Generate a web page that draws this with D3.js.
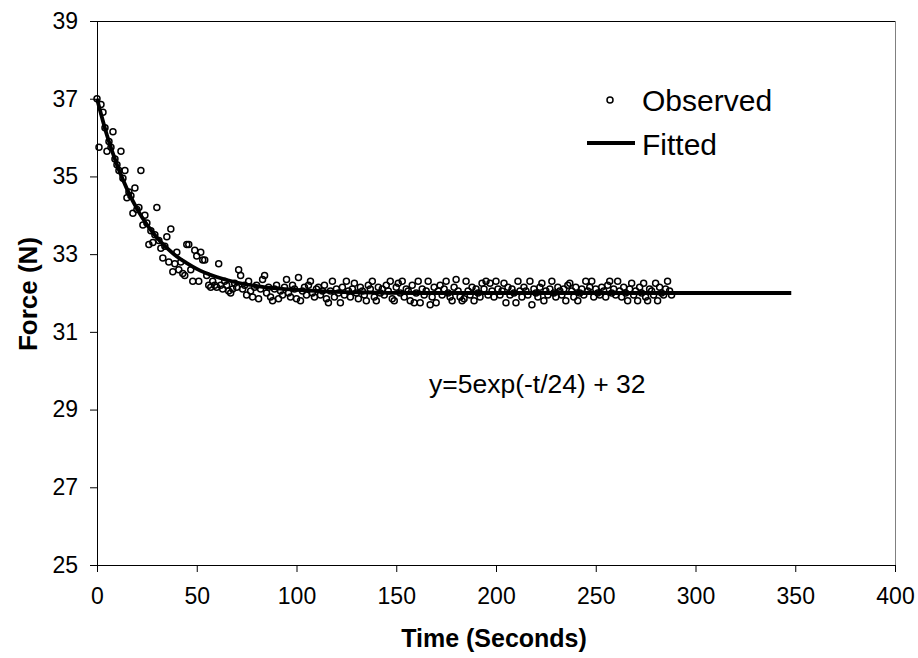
<!DOCTYPE html>
<html>
<head>
<meta charset="utf-8">
<script src="https://cdn.jsdelivr.net/npm/d3@7"></script>
<style>
  body { margin: 0; background: #fff; }
  svg text { font-family: "Liberation Sans", Arial, sans-serif; }
</style>
</head>
<body>
<div id="chart"></div>
<script>
// set the dimensions of the graph
const width = 918,
    height = 658;

// observed force, one reading per second (t = 0 .. 288)
const observed = [
  37.0, 35.75, 36.85, 36.65, 36.25, 35.65, 35.9, 35.75, 36.15, 35.45,
  35.3, 35.15, 35.65, 34.95, 35.15, 34.45, 34.6, 34.5, 34.05, 34.7,
  34.15, 34.2, 35.15, 33.75, 34.0, 33.8, 33.25, 33.6, 33.3, 33.5,
  34.2, 33.35, 33.15, 32.9, 33.2, 33.45, 32.8, 33.65, 32.55, 32.75,
  33.05, 32.6, 32.8, 32.5, 32.45, 33.25, 33.25, 32.6, 32.3, 33.1,
  32.95, 32.3, 33.05, 32.85, 32.85, 32.45, 32.2, 32.15, 32.3, 32.2,
  32.15, 32.75, 32.2, 32.1, 32.3, 32.2, 32.05, 32.0, 32.1, 32.25,
  32.15, 32.6, 32.45,
  32.1, 32.2, 31.95, 32.3, 32.05, 31.9, 32.15, 32.2, 31.85, 32.1,
  32.35, 32.45, 32.0, 32.15, 31.9, 31.8, 32.1, 32.2, 31.85, 32.05,
  31.95, 32.15, 32.35, 32.0, 31.9, 32.2, 32.1, 31.85, 32.4, 31.8,
  32.05, 32.15, 31.95, 32.2, 32.3, 32.0, 31.9, 32.1, 32.15, 31.95,
  32.05, 32.2, 31.85, 31.75, 32.05, 32.3, 31.9, 32.1, 32.0, 31.75,
  32.15, 31.95, 32.3, 32.05, 31.9, 32.1, 32.25, 32.0, 31.85, 32.15,
  32.05, 31.95, 31.8, 32.2, 32.1, 32.3, 31.9, 31.8, 32.15, 32.0,
  32.1, 31.95, 32.2, 32.05, 32.3, 31.85, 31.8, 32.15, 32.25, 32.0,
  32.3, 31.9, 32.1, 32.05, 31.8, 32.2, 31.75, 32.0, 32.3, 31.75,
  32.1, 31.95, 32.05, 32.3, 31.7, 31.9, 32.15, 31.75, 32.05, 32.2,
  31.95, 32.1, 32.3, 32.0, 31.9, 31.8, 32.15, 32.35, 32.05, 31.9,
  31.8, 31.85, 32.3, 32.05, 31.95, 32.15, 31.8, 32.1, 32.0, 31.9,
  32.25, 32.1, 32.3, 31.95, 32.25, 32.05, 31.9, 32.3, 32.1, 31.95,
  32.05, 32.25, 31.75, 32.15, 31.95, 32.1, 32.0, 31.75, 32.3, 32.05,
  31.9, 32.15, 32.05, 31.95, 32.3, 31.7, 32.1, 32.0, 31.9, 32.15,
  32.25, 31.8, 32.05, 31.95, 32.1, 32.3, 32.0, 31.9, 32.15, 32.05,
  31.95, 32.1, 31.8, 32.2, 32.25, 32.05, 31.9, 32.15, 31.8, 32.0,
  32.1, 31.95, 32.3, 32.05, 32.15, 32.3, 31.9, 32.1, 32.0, 31.95,
  32.15, 32.05, 31.9, 32.2, 32.3, 32.0, 32.1, 31.95, 32.3, 32.05,
  31.9, 32.15, 32.0, 31.8, 32.1, 32.25, 31.95, 32.05, 31.8, 32.15,
  32.0, 32.25, 31.9, 31.8, 32.1, 32.05, 31.95, 32.25, 31.8, 32.15,
  32.0, 31.95, 32.1, 32.3, 32.05, 31.95
];

// fitted curve at these times
const fitTimes  = [0, 5, 10, 15, 20, 25, 30, 35, 40, 45, 50, 60, 70, 80, 90, 100, 120, 140, 160, 200, 250, 300, 348];
const fitValues = [37.0, 36.06, 35.3, 34.68, 34.17, 33.76, 33.43, 33.16, 32.94, 32.77, 32.62, 32.41, 32.27, 32.18, 32.12, 32.08, 32.03, 32.01, 32.0, 32.0, 32.0, 32.0, 32.0];

// tick labels
const xTicks = [0, 50, 100, 150, 200, 250, 300, 350, 400];
const yTicks = [25, 27, 29, 31, 33, 35, 37, 39];

const svg = d3.select("#chart")
  .append("svg")
    .attr("width", width)
    .attr("height", height);

const x = d3.scaleLinear().domain([0, 400]).range([97, 895]);
const y = d3.scaleLinear().domain([25, 39]).range([565, 21]);

// plot area border (top and right)
svg.append("line").attr("x1", 97).attr("x2", 895).attr("y1", 21.5).attr("y2", 21.5)
  .attr("stroke", "#000").attr("stroke-width", 1);
svg.append("line").attr("x1", 895.5).attr("x2", 895.5).attr("y1", 21).attr("y2", 565)
  .attr("stroke", "#808080").attr("stroke-width", 1);

// axes
const xAxis = svg.append("g")
  .attr("transform", "translate(0,565)")
  .call(d3.axisBottom(x).tickValues(xTicks).tickSize(7).tickSizeOuter(0).tickPadding(16));
const yAxis = svg.append("g")
  .attr("transform", "translate(97,0)")
  .call(d3.axisLeft(y).tickValues(yTicks).tickSize(7).tickSizeOuter(0).tickPadding(12));

[xAxis, yAxis].forEach(a => {
  a.select(".domain").attr("stroke", "#000");
  a.selectAll(".tick line").attr("stroke", "#000");
  a.selectAll(".tick text")
    .style("font-family", "'Liberation Sans', Arial, sans-serif")
    .style("font-size", "23px")
    .attr("fill", "#000");
});

// axis titles
svg.append("text")
  .attr("x", 494).attr("y", 647)
  .attr("text-anchor", "middle")
  .style("font-size", "25px").style("font-weight", "bold")
  .text("Time (Seconds)");

svg.append("text")
  .attr("transform", "translate(37,294) rotate(-90)")
  .attr("text-anchor", "middle")
  .style("font-size", "26px").style("font-weight", "bold")
  .text("Force (N)");

// observed points
svg.append("g")
  .selectAll("circle")
  .data(observed)
  .join("circle")
    .attr("cx", (d, i) => x(i))
    .attr("cy", d => y(d))
    .attr("r", 3)
    .attr("fill", "none")
    .attr("stroke", "#000")
    .attr("stroke-width", 1.5);

// fitted line
const line = d3.line()
  .x(d => x(d[0]))
  .y(d => y(d[1]))
  .curve(d3.curveMonotoneX);

svg.append("path")
  .datum(fitTimes.map((t, i) => [t, fitValues[i]]))
  .attr("d", line)
  .attr("fill", "none")
  .attr("stroke", "#000")
  .attr("stroke-width", 3.8);

// equation
svg.append("text")
  .attr("x", 429).attr("y", 393)
  .style("font-size", "26.5px")
  .text("y=5exp(-t/24) + 32");

// Handmade legend
svg.append("circle").attr("cx", 610).attr("cy", 100).attr("r", 3)
  .attr("fill", "none").attr("stroke", "#000").attr("stroke-width", 1.5);
svg.append("text").attr("x", 642).attr("y", 111).style("font-size", "30px").text("Observed");
svg.append("line").attr("x1", 587).attr("x2", 635).attr("y1", 143).attr("y2", 143)
  .attr("stroke", "#000").attr("stroke-width", 3.8);
svg.append("text").attr("x", 642).attr("y", 155).style("font-size", "30px").text("Fitted");
</script>
</body>
</html>
